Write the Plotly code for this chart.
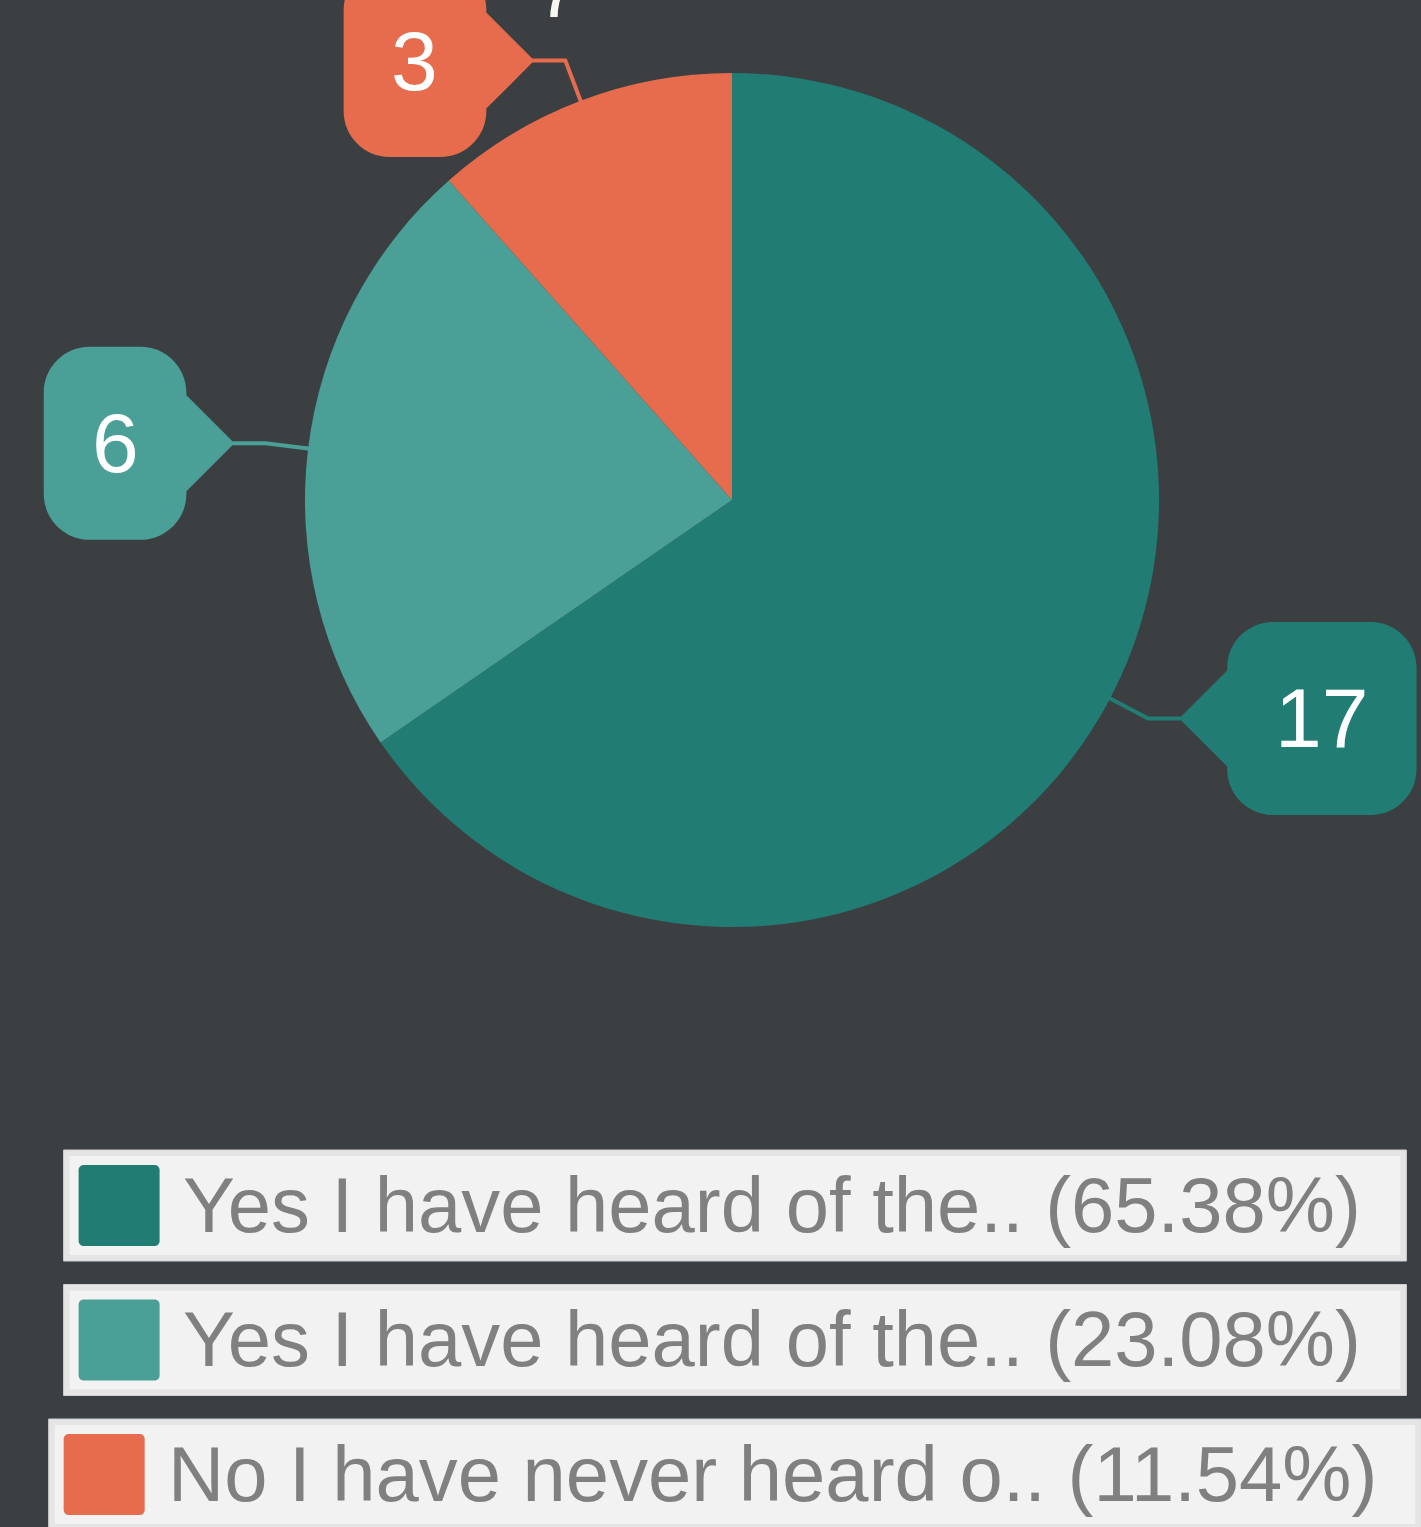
import math
import plotly.graph_objects as go

# ---------------- data ----------------
labels = ["Yes I have heard of the..", "Yes I have heard of the..", "No I have never heard o.."]
values = [17, 6, 3]
colors = ["#217d74", "#4aa097", "#e76c4e"]

# ---------------- layout constants ----------------
W, H = 1421, 1527
BG = "#3c3f42"
FONT = "Liberation Sans, Arial, sans-serif"
CX, CY, R = 732, 500, 427          # pie centre / radius in pixels

def X(p):
    return p / W

def Y(p):
    return 1 - p / H

# Arial advance widths (per em) for text-width estimation
AW = {' ': .278, 'Y': .667, 'e': .556, 's': .5, 'I': .278, 'h': .556, 'a': .556, 'v': .5,
      'r': .333, 'd': .556, 'o': .556, 'f': .278, 't': .278, '.': .278, '(': .333, ')': .333,
      '%': .889, 'N': .722, 'n': .556}
def text_w(s):
    return sum(AW.get(ch, .556) for ch in s)

total = sum(values)
legend_text = [f"{l} ({v / total * 100:.2f}%)" for l, v in zip(labels, values)]

fig = go.Figure()
fig.add_trace(go.Pie(
    values=values, labels=legend_text,
    marker=dict(colors=colors, line=dict(width=0)),
    sort=False, direction="clockwise", rotation=0,
    textinfo="none", hoverinfo="label+value", showlegend=False,
    domain=dict(x=[X(CX - R), X(CX + R)], y=[Y(CY + R), Y(CY - R)]),
))

# ---------------- callouts ----------------
CALLOUT_FS = 84
cum = 0
for v, c in zip(values, colors):
    theta = 2 * math.pi * (cum + v / 2) / total
    cum += v
    dx, dy = math.sin(theta), -math.cos(theta)
    px, py = CX + R * dx, CY + R * dy
    ex, ey = px + 43 * dx, py + 43 * dy
    s = 1 if dx >= 0 else -1
    tx, ty = ex + s * 31, ey
    txt = str(v)
    w = len(txt) * 0.556 * CALLOUT_FS + 96
    fig.add_shape(type="path", xref="paper", yref="paper",
                  path=f"M{X(px - 2 * dx):.5f},{Y(py - 2 * dy):.5f} L{X(ex):.5f},{Y(ey):.5f} L{X(tx + s * 2):.5f},{Y(ty):.5f}",
                  line=dict(color=c, width=4), fillcolor="rgba(0,0,0,0)")
    a, hh, r = 48, 96.5, 46
    k = 0.5523 * r
    u0, u1 = a, a + w

    def P(u, vv):
        return f"{X(tx + s * u):.5f},{Y(ty + vv):.5f}"
    path = (f"M{P(0, 0)} L{P(u0, -a)} L{P(u0, -hh + r)} "
            f"C{P(u0, -hh + r - k)} {P(u0 + r - k, -hh)} {P(u0 + r, -hh)} "
            f"L{P(u1 - r, -hh)} C{P(u1 - r + k, -hh)} {P(u1, -hh + r - k)} {P(u1, -hh + r)} "
            f"L{P(u1, hh - r)} C{P(u1, hh - r + k)} {P(u1 - r + k, hh)} {P(u1 - r, hh)} "
            f"L{P(u0 + r, hh)} C{P(u0 + r - k, hh)} {P(u0, hh - r + k)} {P(u0, hh - r)} "
            f"L{P(u0, a)} Z")
    fig.add_shape(type="path", xref="paper", yref="paper", path=path,
                  fillcolor=c, line=dict(width=0))
    fig.add_annotation(x=X(tx + s * (u0 + u1) / 2), y=Y(ty), xref="paper", yref="paper",
                       text=txt, showarrow=False, xanchor="center", yanchor="middle",
                       font=dict(size=CALLOUT_FS, color="white", family=FONT))

# partially visible white glyph at the very top (cut off in the reference as well)
fig.add_annotation(x=X(558), y=Y(17 - 0.3465 * 80), xref="paper", yref="paper",
                   text="7", showarrow=False, xanchor="center", yanchor="middle",
                   font=dict(size=80, color="#f7f6f0", family=FONT))

# ---------------- legend boxes ----------------
LEG_TOP0, LEG_STEP, LEG_H, LEG_CX = 1150, 134.5, 111, 735
LEG_FS_METRIC, LEG_FS = 77, 77.8
for i, (t, c) in enumerate(zip(legend_text, colors)):
    tw = text_w(t) * LEG_FS_METRIC
    bw = tw + 170
    x0 = LEG_CX - bw / 2
    x1 = x0 + bw
    y0 = LEG_TOP0 + i * LEG_STEP
    y1 = y0 + LEG_H
    fig.add_shape(type="rect", xref="paper", yref="paper",
                  x0=X(x0), x1=X(x1), y0=Y(y1), y1=Y(y0),
                  fillcolor="#e5e5e5", line=dict(color="#d0d0d0", width=1))
    fig.add_shape(type="rect", xref="paper", yref="paper",
                  x0=X(x0 + 6), x1=X(x1 - 6), y0=Y(y1 - 6), y1=Y(y0 + 6),
                  fillcolor="#f2f2f2", line=dict(width=0))
    sx0, sy0, sz, sr = x0 + 15, y0 + 15, 81, 5
    sk = 0.5523 * sr
    def Q(xx, yy):
        return f"{X(xx):.5f},{Y(yy):.5f}"
    sp = (f"M{Q(sx0 + sr, sy0)} L{Q(sx0 + sz - sr, sy0)} "
          f"C{Q(sx0 + sz - sr + sk, sy0)} {Q(sx0 + sz, sy0 + sr - sk)} {Q(sx0 + sz, sy0 + sr)} "
          f"L{Q(sx0 + sz, sy0 + sz - sr)} "
          f"C{Q(sx0 + sz, sy0 + sz - sr + sk)} {Q(sx0 + sz - sr + sk, sy0 + sz)} {Q(sx0 + sz - sr, sy0 + sz)} "
          f"L{Q(sx0 + sr, sy0 + sz)} "
          f"C{Q(sx0 + sr - sk, sy0 + sz)} {Q(sx0, sy0 + sz - sr + sk)} {Q(sx0, sy0 + sz - sr)} "
          f"L{Q(sx0, sy0 + sr)} C{Q(sx0, sy0 + sr - sk)} {Q(sx0 + sr - sk, sy0)} {Q(sx0 + sr, sy0)} Z")
    fig.add_shape(type="path", xref="paper", yref="paper", path=sp,
                  fillcolor=c, line=dict(width=0))
    fig.add_annotation(x=X(x0 + 117), y=Y(y0 + LEG_H / 2 - 1), xref="paper", yref="paper",
                       text=t, showarrow=False, xanchor="left", yanchor="middle",
                       font=dict(size=LEG_FS, color="#808080", family=FONT))

fig.update_layout(
    width=W, height=H,
    margin=dict(l=0, r=0, t=0, b=0),
    paper_bgcolor=BG, plot_bgcolor=BG,
    font=dict(family=FONT),
    showlegend=False,
)

fig.write_html("out.html", config={"displayModeBar": False},
               post_script="document.body.style.margin='0';document.body.style.overflow='hidden';")
